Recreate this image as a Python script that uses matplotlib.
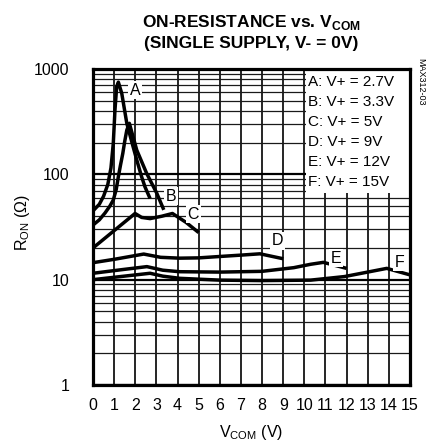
import matplotlib.pyplot as plt
from matplotlib.patches import Rectangle
from matplotlib.ticker import LogLocator, NullFormatter, FixedLocator

plt.rcParams['font.family'] = ['Liberation Sans', 'DejaVu Sans']
plt.rcParams['mathtext.fontset'] = 'custom'
plt.rcParams['mathtext.rm'] = 'Liberation Sans'
plt.rcParams['mathtext.bf'] = 'Liberation Sans:bold'

# ---- data (V_COM in volts, R_ON in ohms) ----
v_a = [0, 0.3, 0.5, 0.7, 0.85, 0.96, 1.04, 1.12, 1.2, 1.36, 1.6, 1.85, 2.07, 2.3, 2.46, 2.7]
r_a = [45, 52, 62, 80, 115, 197, 410, 677, 750, 588, 305, 198, 137, 95, 76, 59]

v_b = [0, 0.3, 0.57, 0.8, 0.96, 1.1, 1.2, 1.3, 1.41, 1.5, 1.6, 1.72, 2.07, 2.54, 3.02, 3.35]
r_b = [33, 37, 43, 50, 57, 72, 95, 122, 158, 205, 263, 305, 170, 102, 66, 46]

v_c = [0, 1.99, 2.3, 2.7, 3.25, 3.76, 4.4, 5.0]
r_c = [20, 42.5, 39, 38, 40, 42.5, 35, 28]

v_d = [0, 1, 2.4, 3.2, 4.1, 5, 6, 7, 7.9, 9.0]
r_d = [14.5, 15.6, 17.5, 16.3, 16.0, 16.1, 16.6, 17.1, 17.6, 15.8]

v_e = [0, 1.3, 2.55, 3.3, 4.1, 6, 8, 9.5, 10.3, 10.9, 12.0]
r_e = [11.5, 12.4, 13.3, 12.3, 11.9, 11.8, 12.0, 13.0, 14.0, 14.6, 12.8]

v_f = [0, 1.3, 2.7, 3.3, 4.1, 6, 8, 10.3, 11.9, 13.9, 15]
r_f = [10.0, 10.7, 11.5, 10.8, 10.3, 9.9, 9.8, 9.9, 10.7, 12.8, 11.1]

curve_tags = ["A", "B", "C", "D", "E", "F"]
tag_v = [2.0, 3.7, 4.74, 8.72, 11.5, 14.5]
tag_r = [631, 62, 42, 23.3, 16.0, 14.7]
legend_lines = ["A: V+ = 2.7V", "B: V+ = 3.3V", "C: V+ = 5V",
                "D: V+ = 9V", "E: V+ = 12V", "F: V+ = 15V"]

fig = plt.figure(figsize=(4.29, 4.43), dpi=100)
ax = fig.add_axes([93/429, 1-385/443, 317/429, 316/443])

ax.set_yscale('log')
ax.set_xlim(0, 15)
ax.set_ylim(1, 1000)

# grid
ax.xaxis.set_major_locator(FixedLocator(range(16)))
ax.yaxis.set_minor_locator(LogLocator(base=10, subs=range(2, 10), numticks=50))
ax.yaxis.set_minor_formatter(NullFormatter())
ax.set_yticks([1, 10, 100, 1000])
ax.set_yticklabels(["1", "10", "100", "1000"])
ax.set_axisbelow(True)
ax.grid(axis='x', which='major', color='black', lw=1.2)
ax.grid(axis='y', which='major', color='black', lw=1.6)
ax.grid(axis='y', which='minor', color='#1a1a1a', lw=0.9)

ax.tick_params(which='both', length=0)
ax.tick_params(axis='x', pad=9, labelsize=11.5)
ax.tick_params(axis='y', pad=17, labelsize=11.5)

for s in ax.spines.values():
    s.set_linewidth(2.3)
    s.set_zorder(6)

# white area behind the legend text
ax.add_patch(Rectangle((10.06, 66), 4.94, 934, facecolor='white',
                       edgecolor='none', zorder=2))

for v, r in [(v_a, r_a), (v_b, r_b), (v_c, r_c), (v_d, r_d), (v_e, r_e), (v_f, r_f)]:
    ax.plot(v, r, color='black', lw=2.5, zorder=3,
            solid_joinstyle='round', solid_capstyle='butt')

for t, v, r in zip(curve_tags, tag_v, tag_r):
    ax.text(v, r, t, ha='center', va='center', fontsize=11.5, zorder=4,
            bbox=dict(facecolor='white', edgecolor='none', pad=1.2))

leg_y = [0.960, 0.897, 0.833, 0.770, 0.707, 0.643]
for t, y in zip(legend_lines, leg_y):
    ax.text(0.678, y, t, transform=ax.transAxes, ha='left', va='center',
            fontsize=11, zorder=4)

fig.text(251/429, 1-27/443, r"ON-RESISTANCE vs. V$_{\mathbf{COM}}$",
         ha='center', va='baseline', fontsize=12.5, fontweight='bold')
fig.text(251/429, 1-48/443, "(SINGLE SUPPLY, V- = 0V)",
         ha='center', va='baseline', fontsize=12.5, fontweight='bold')

fig.text(23/429, 1-222/443, r"R$_{\mathrm{ON}}$ ($\Omega$)", rotation=90,
         ha='center', va='center', fontsize=11.5)
fig.text(251/429, 1-432/443, r"V$_{\mathrm{COM}}$ (V)",
         ha='center', va='center', fontsize=11.5)
fig.text(421/429, 1-82/443, "MAX312-03", rotation=270,
         ha='center', va='center', fontsize=6.5)

fig.savefig("out.png", dpi=100)
